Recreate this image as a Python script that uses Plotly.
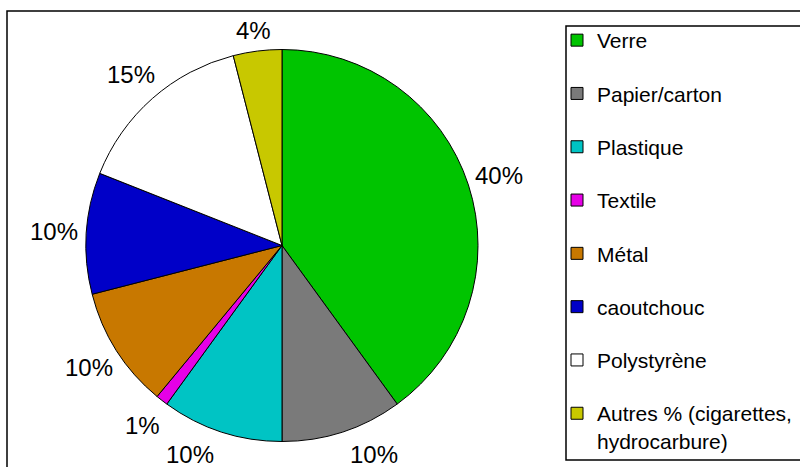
import math
import plotly.graph_objects as go

categories = ["Verre", "Papier/carton", "Plastique", "Textile", "Métal",
              "caoutchouc", "Polystyrène", "Autres % (cigarettes,<br>hydrocarbure)"]
values = [40, 10, 10, 1, 10, 10, 15, 4]
colors = ["#00c400", "#7a7a7a", "#00c4c4", "#e600e6", "#c87800",
          "#0000c8", "#ffffff", "#c8c800"]

W, H = 800, 467
cx, cy, r = 282, 245.5, 196
label_r = 228
y_top, y_bot = 30, 454

fig = go.Figure()
fig.add_trace(go.Pie(
    values=values,
    labels=categories,
    sort=False,
    direction="clockwise",
    rotation=0,
    marker=dict(colors=colors, line=dict(color="black", width=1)),
    textinfo="none",
    showlegend=False,
    domain=dict(x=[(cx - r) / W, (cx + r) / W],
                y=[(H - cy - r) / H, (H - cy + r) / H]),
))

# percentage labels placed outside each slice, at its mid-angle
total = sum(values)
annotations = []
acc = 0
for v in values:
    mid = (acc + v / 2) / total * 2 * math.pi
    acc += v
    px = cx + label_r * math.sin(mid)
    py = cy - label_r * math.cos(mid)
    if py > y_bot:
        dy = y_bot - cy
        px = cx + math.copysign(math.sqrt(label_r ** 2 - dy ** 2), px - cx)
        py = y_bot
    elif py < y_top:
        py = y_top
    annotations.append(dict(
        x=px / W, y=1 - py / H, xref="paper", yref="paper",
        text=f"{round(v / total * 100)}%", showarrow=False,
        xanchor="center", yanchor="middle",
        font=dict(family="Liberation Sans, Arial", size=24, color="black"),
    ))

for i, (name, col) in enumerate(zip(categories, colors)):
    fig.add_trace(go.Scatter(
        x=[None], y=[None], mode="markers", name=name,
        legendgroup=f"g{i}",
        marker=dict(symbol="square", size=12, color=col,
                    line=dict(color="black", width=1)),
    ))

fig.update_layout(
    width=W, height=H,
    margin=dict(l=0, r=0, t=0, b=0),
    paper_bgcolor="white", plot_bgcolor="white",
    xaxis=dict(visible=False), yaxis=dict(visible=False),
    annotations=annotations,
    legend=dict(
        x=557 / W, y=1 - 20 / H, xanchor="left", yanchor="top",
        font=dict(family="Liberation Sans, Arial", size=21, color="black"),
        tracegroupgap=23, valign="top",
        bgcolor="rgba(0,0,0,0)", borderwidth=0,
    ),
    shapes=[
        dict(type="rect", xref="paper", yref="paper",
             x0=7 / W, x1=1.05, y0=-0.05, y1=1 - 11 / H,
             line=dict(color="black", width=1.5), fillcolor="rgba(0,0,0,0)", layer="below"),
        dict(type="rect", xref="paper", yref="paper",
             x0=566 / W, x1=1.05, y0=1 - 460 / H, y1=1 - 26 / H,
             line=dict(color="black", width=1.5), fillcolor="white", layer="below"),
    ],
)

fig.write_html("out.html", config={"displayModeBar": False},
               post_script="document.body.style.margin='0';")
